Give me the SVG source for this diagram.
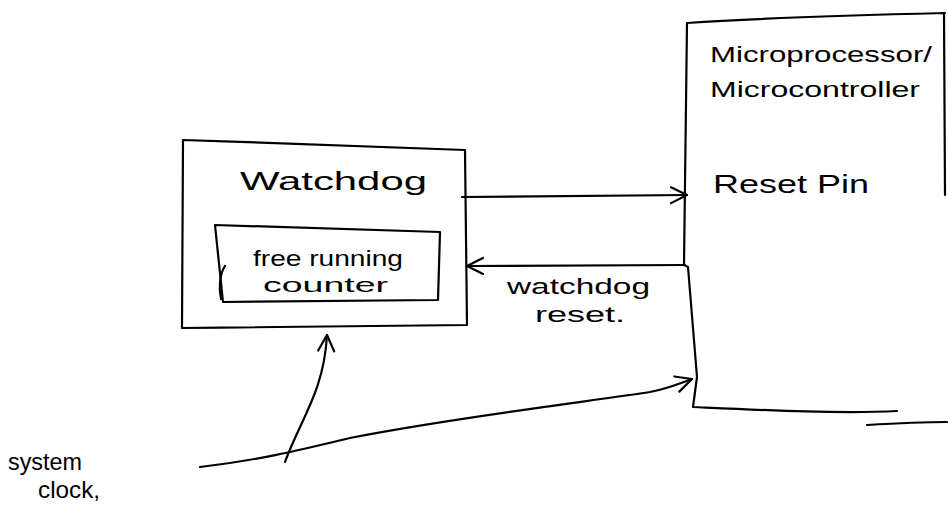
<svg xmlns="http://www.w3.org/2000/svg" width="948" height="529" viewBox="0 0 948 529">
<defs>
<style>
.ln{fill:none;stroke:#000;stroke-width:2.2;stroke-linecap:round;stroke-linejoin:round}
.tx{font-family:"Liberation Sans","DejaVu Sans",sans-serif;fill:#000}
</style>
<marker id="arr" viewBox="0 0 20 20" refX="18" refY="10" markerWidth="20" markerHeight="20" markerUnits="userSpaceOnUse" orient="auto">
<path d="M2,2 L18,10 L2,18" fill="none" stroke="#000" stroke-width="2.2" stroke-linecap="round" stroke-linejoin="round"/>
</marker>
</defs>
<rect width="948" height="529" fill="#fff"/>
<g id="mcu">
<path class="ln" d="M687,23 C760,18 860,15 945,13 M944,13 L945,195 M687,23 L684,265 L688,267 L697,377 L693,407 C760,410 840,414 897,411 M867,425 C900,423 930,422 947,422"/>
<text class="tx" x="710" y="62" font-size="22" textLength="222" lengthAdjust="spacingAndGlyphs">Microprocessor/</text>
<text class="tx" x="710" y="97" font-size="22" textLength="210" lengthAdjust="spacingAndGlyphs">Microcontroller</text>
<text class="tx" x="713" y="193" font-size="26" textLength="156" lengthAdjust="spacingAndGlyphs">Reset Pin</text>
</g>
<g id="watchdog">
<path class="ln" d="M183,140 C280,143 380,147 465,150 L467,325 C380,326 280,327 182,328 Z"/>
<text class="tx" x="240" y="190" font-size="26" textLength="187" lengthAdjust="spacingAndGlyphs">Watchdog</text>
</g>
<g id="counter">
<path class="ln" d="M215,225 L440,232 L438,300 L223,302 Z"/>
<path class="ln" d="M225,266 C219,275 219,290 221,299"/>
<text class="tx" x="253" y="266" font-size="22" textLength="150" lengthAdjust="spacingAndGlyphs">free running</text>
<text class="tx" x="263" y="292" font-size="21" textLength="125" lengthAdjust="spacingAndGlyphs">counter</text>
</g>
<g id="labels">
<text class="tx" x="507" y="294" font-size="22" textLength="143" lengthAdjust="spacingAndGlyphs">watchdog</text>
<text class="tx" x="535" y="322" font-size="22" textLength="90" lengthAdjust="spacingAndGlyphs">reset.</text>
<text class="tx" x="8" y="470" font-size="24" textLength="74" lengthAdjust="spacingAndGlyphs">system</text>
<text class="tx" x="38" y="498" font-size="24" textLength="62" lengthAdjust="spacingAndGlyphs">clock,</text>
</g>
<g id="connectors">
<path class="ln" marker-end="url(#arr)" d="M462,197 L687,195"/>
<path class="ln" marker-end="url(#arr)" d="M685,265 L467,266"/>
<path class="ln" marker-end="url(#arr)" d="M200,467 C260,460 300,450 350,438 C450,418 600,400 650,392 C670,388 680,383 692,379"/>
<path class="ln" marker-end="url(#arr)" d="M285,462 C300,420 324,392 327,335"/>
</g>
</svg>
